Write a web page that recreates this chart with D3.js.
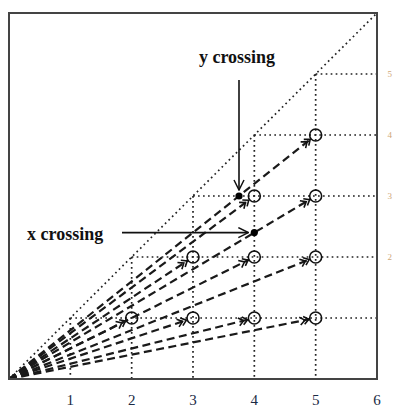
<!DOCTYPE html>
<html>
<head>
<meta charset="utf-8">
<script src="https://cdn.jsdelivr.net/npm/d3@7"></script>
<style>
  html, body { margin: 0; padding: 0; background: #fff; }
  svg { display: block; }
</style>
</head>
<body>
<svg id="chart" width="394" height="409"></svg>
<script>
// Lattice points (i, j) with j < i, reached by rays from the origin
const pointX = [2, 3, 4, 5, 3, 4, 5, 4, 5, 5];
const pointY = [1, 1, 1, 1, 2, 2, 2, 3, 3, 4];
// Grid levels: dotted lines run from the diagonal to the axes
const gridLevels = [1, 2, 3, 4, 5];
// Bottom tick labels and the right-hand labels
const xTicks = [1, 2, 3, 4, 5, 6];
const rightTicks = [2, 3, 4, 5];
// Crossing markers: where a ray crosses a grid line
const yCrossing = [3.75, 3];   // ray to (5,4) crossing y = 3
const xCrossing = [4, 2.4];    // ray to (5,3) crossing x = 4
const labels = ["y crossing", "x crossing"];

const svg = d3.select("#chart");
const x = d3.scaleLinear().domain([0, 6]).range([9, 377]);
const y = d3.scaleLinear().domain([0, 6]).range([379, 13]);

const defs = svg.append("defs");
// double chevron arrowhead for the rays
const m = defs.append("marker")
  .attr("id", "dbl").attr("viewBox", "0 0 14 10")
  .attr("refX", 13).attr("refY", 5)
  .attr("markerWidth", 14).attr("markerHeight", 10)
  .attr("markerUnits", "userSpaceOnUse").attr("orient", "auto");
m.append("path").attr("d", "M3,1 L8,5 L3,9 M7,1 L12,5 L7,9")
  .attr("fill", "none").attr("stroke", "#111").attr("stroke-width", 1.6);
// open arrowhead for annotation arrows
defs.append("marker")
  .attr("id", "open").attr("viewBox", "0 0 12 12")
  .attr("refX", 11).attr("refY", 6)
  .attr("markerWidth", 12).attr("markerHeight", 12)
  .attr("markerUnits", "userSpaceOnUse").attr("orient", "auto")
  .append("path").attr("d", "M1,1 L11,6 L1,11")
  .attr("fill", "none").attr("stroke", "#111").attr("stroke-width", 1.5);

const dotStyle = g => g.attr("stroke", "#222").attr("stroke-width", 1.7)
  .attr("stroke-dasharray", "1.7,3.3").attr("fill", "none");

// diagonal y = x
svg.append("line")
  .attr("x1", x(0)).attr("y1", y(0)).attr("x2", x(6)).attr("y2", y(6))
  .call(dotStyle);

// vertical dotted lines from (k,k) down to the x axis
svg.append("g").selectAll("line").data(gridLevels).join("line")
  .attr("x1", d => x(d)).attr("x2", d => x(d))
  .attr("y1", d => y(d)).attr("y2", y(0))
  .call(dotStyle);

// horizontal dotted lines from (k,k) to the right edge
svg.append("g").selectAll("line").data(gridLevels).join("line")
  .attr("x1", d => x(d)).attr("x2", x(6))
  .attr("y1", d => y(d)).attr("y2", d => y(d))
  .call(dotStyle);

const pts = pointX.map((px, i) => ({ px, py: pointY[i] }));
const r = 6;

// dashed rays from the origin to each lattice point, stopping at the circle
const endAt = (d, axis) => {
  const dx = x(d.px) - x(0), dy = y(d.py) - y(0), L = Math.hypot(dx, dy);
  return axis === "x" ? x(d.px) - dx / L * r : y(d.py) - dy / L * r;
};
svg.append("g").selectAll("line").data(pts).join("line")
  .attr("x1", x(0)).attr("y1", y(0))
  .attr("x2", d => endAt(d, "x"))
  .attr("y2", d => endAt(d, "y"))
  .attr("stroke", "#1a1a1a").attr("stroke-width", 2.2)
  .attr("stroke-dasharray", "8,4.5")
  .attr("marker-end", "url(#dbl)");

// open circles at lattice points
svg.append("g").selectAll("circle").data(pts).join("circle")
  .attr("cx", d => x(d.px)).attr("cy", d => y(d.py)).attr("r", r)
  .attr("fill", "none").attr("stroke", "#111").attr("stroke-width", 1.6);

// crossing dots
svg.append("g").selectAll("circle").data([yCrossing, xCrossing]).join("circle")
  .attr("cx", d => x(d[0])).attr("cy", d => y(d[1])).attr("r", 3.6)
  .attr("fill", "#000");

// annotation arrows
svg.append("line")
  .attr("x1", x(yCrossing[0])).attr("y1", 80)
  .attr("x2", x(yCrossing[0])).attr("y2", y(yCrossing[1]) - 6)
  .attr("stroke", "#111").attr("stroke-width", 1.6)
  .attr("marker-end", "url(#open)");
svg.append("line")
  .attr("x1", 122).attr("y1", y(xCrossing[1]))
  .attr("x2", x(xCrossing[0]) - 6).attr("y2", y(xCrossing[1]))
  .attr("stroke", "#111").attr("stroke-width", 1.6)
  .attr("marker-end", "url(#open)");

const serif = "'Liberation Serif', 'DejaVu Serif', serif";
svg.append("text").attr("x", 237).attr("y", 63).attr("text-anchor", "middle")
  .attr("font-family", serif).attr("font-weight", "bold").attr("font-size", 18)
  .attr("fill", "#111").text(labels[0]);
svg.append("text").attr("x", 27).attr("y", 240)
  .attr("font-family", serif).attr("font-weight", "bold").attr("font-size", 18)
  .attr("fill", "#111").text(labels[1]);

// frame
svg.append("rect")
  .attr("x", x(0)).attr("y", y(6))
  .attr("width", x(6) - x(0)).attr("height", y(0) - y(6))
  .attr("fill", "none").attr("stroke", "#444").attr("stroke-width", 2);

// bottom tick labels
svg.append("g").selectAll("text").data(xTicks).join("text")
  .attr("x", d => x(d)).attr("y", 404.5).attr("text-anchor", "middle")
  .attr("font-family", serif).attr("font-size", 15).attr("fill", "#1a2a44")
  .text(d => d);

// right-hand labels, small, at the page edge
svg.append("g").selectAll("text").data(rightTicks).join("text")
  .attr("x", 387.5).attr("y", d => y(d) + 3)
  .attr("font-family", serif).attr("font-size", 9).attr("fill", "#d0a878")
  .text(d => d);
</script>
</body>
</html>
